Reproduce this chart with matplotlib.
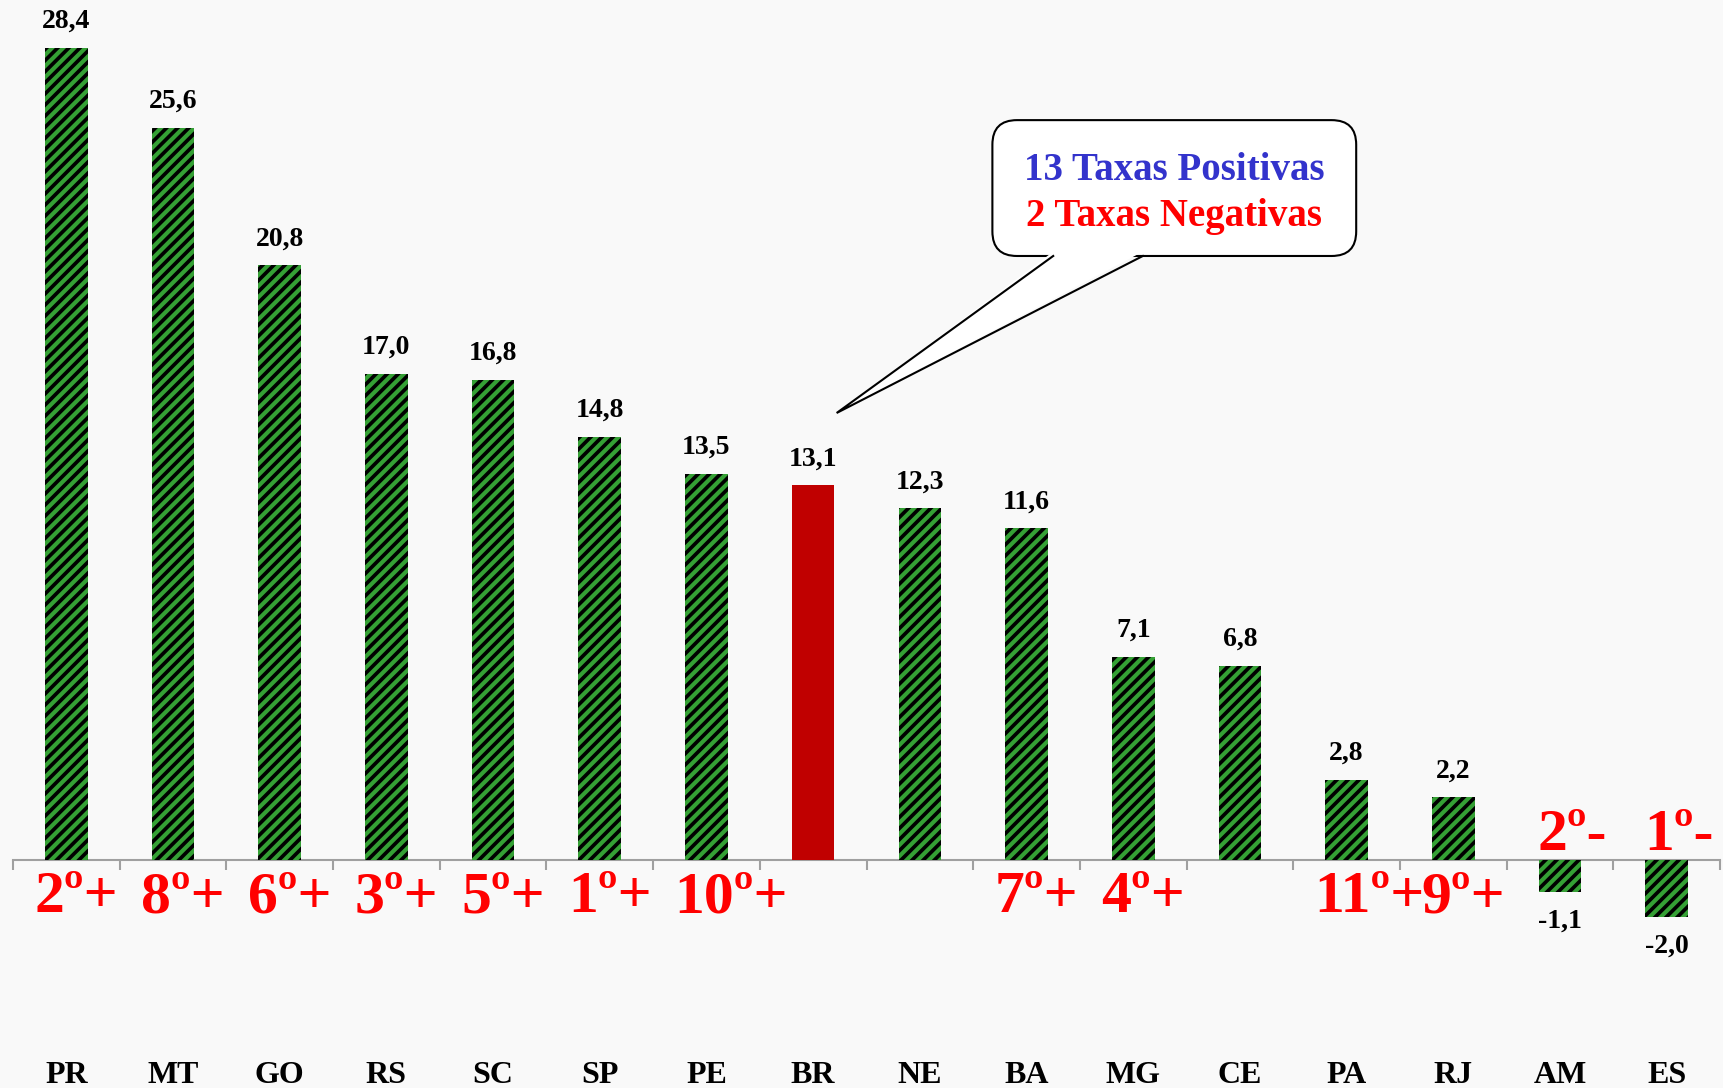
import matplotlib.pyplot as plt
import numpy as np
from matplotlib.patches import FancyBboxPatch, Polygon

# dados
estados = ['PR', 'MT', 'GO', 'RS', 'SC', 'SP', 'PE', 'BR', 'NE', 'BA',
           'MG', 'CE', 'PA', 'RJ', 'AM', 'ES']
taxas = [28.4, 25.6, 20.8, 17.0, 16.8, 14.8, 13.5, 13.1, 12.3, 11.6,
         7.1, 6.8, 2.8, 2.2, -1.1, -2.0]
ranking = ['2º+', '8º+', '6º+', '3º+', '5º+', '1º+', '10º+', '', '', '7º+',
           '4º+', '', '11º+', '9º+', '2º-', '1º-']

bg = '#f9f9f9'
verde = '#35a035'
serif = ['Liberation Serif', 'DejaVu Serif']
plt.rcParams['hatch.linewidth'] = 3.0

W, H = 1723, 1088
fig = plt.figure(figsize=(W / 100, H / 100), dpi=100, facecolor=bg)
ax = fig.add_axes([13 / W, 0, 1707 / W, 1])
ax.set_facecolor(bg)

x = np.arange(len(estados))
ax.set_xlim(-0.5, len(estados) - 0.5)
ax.set_ylim(-7.97, 30.07)

for i, (uf, v) in enumerate(zip(estados, taxas)):
    if uf == 'BR':
        ax.bar(i, v, width=0.40, color='#c00000', linewidth=0, zorder=3)
    else:
        ax.bar(i, v, width=0.40, facecolor='black', edgecolor=verde,
               linewidth=0, hatch='///', zorder=3)
    txt = f'{v:.1f}'.replace('.', ',')
    if v >= 0:
        ax.annotate(txt, (i, v), xytext=(0, 10), textcoords='offset points',
                    ha='center', va='bottom', fontsize=20, fontweight='bold',
                    family=serif)
    else:
        ax.annotate(txt, (i, v), xytext=(0, -12), textcoords='offset points',
                    ha='center', va='top', fontsize=20, fontweight='bold',
                    family=serif)
    ax.text(i, -7.8, uf, ha='center', va='baseline', fontsize=23,
            fontweight='bold', family=serif)
    # ranking em vermelho
    r = ranking[i]
    if r.endswith('+'):
        ax.text(i - 0.3, -1.82, r, ha='left', va='baseline', fontsize=43,
                fontweight='bold', color='#ff0000', family=serif)
    elif r.endswith('-'):
        ax.text(i - 0.21, 0.35, r, ha='left', va='baseline', fontsize=43,
                fontweight='bold', color='#ff0000', family=serif)

# eixo
for s in ['left', 'right', 'top']:
    ax.spines[s].set_visible(False)
ax.spines['bottom'].set_position(('data', 0))
ax.spines['bottom'].set_color('#a0a0a0')
ax.spines['bottom'].set_linewidth(1.5)
ax.set_yticks([])
ax.set_xticks([])
ax.set_xticks(np.arange(-0.5, len(estados)), minor=True)
ax.tick_params(axis='x', which='minor', length=7, width=1.5,
               color='#a0a0a0', labelbottom=False)

# balão
px_x = 1707 / len(estados)
px_y = H / (30.07 + 7.97)
bx0, bx1, by0, by1 = 8.68, 12.09, 21.12, 25.87
box = FancyBboxPatch((bx0, by0), bx1 - bx0, by1 - by0,
                     boxstyle='round,pad=0,rounding_size=0.23',
                     mutation_aspect=px_x / px_y,
                     facecolor='white', edgecolor='black', linewidth=1.5,
                     zorder=5)
ax.add_patch(box)
tip = (7.22, 15.63)
b1, b2 = 9.25, 10.09
ax.add_patch(Polygon([(b1, by0 + 0.15), tip, (b2, by0 + 0.15)],
                     closed=True, facecolor='white', edgecolor='none',
                     zorder=6))
ax.plot([b1, tip[0], b2], [by0, tip[1], by0], color='black', lw=1.5,
        zorder=7, solid_joinstyle='miter')
ax.text((bx0 + bx1) / 2, 24.1, '13 Taxas Positivas', ha='center',
        va='center', fontsize=28, fontweight='bold', color='#3333cc',
        family=serif, zorder=8)
ax.text((bx0 + bx1) / 2, 22.5, '2 Taxas Negativas', ha='center',
        va='center', fontsize=28, fontweight='bold', color='#ff0000',
        family=serif, zorder=8)

fig.savefig('out.png', dpi=100, facecolor=bg)
